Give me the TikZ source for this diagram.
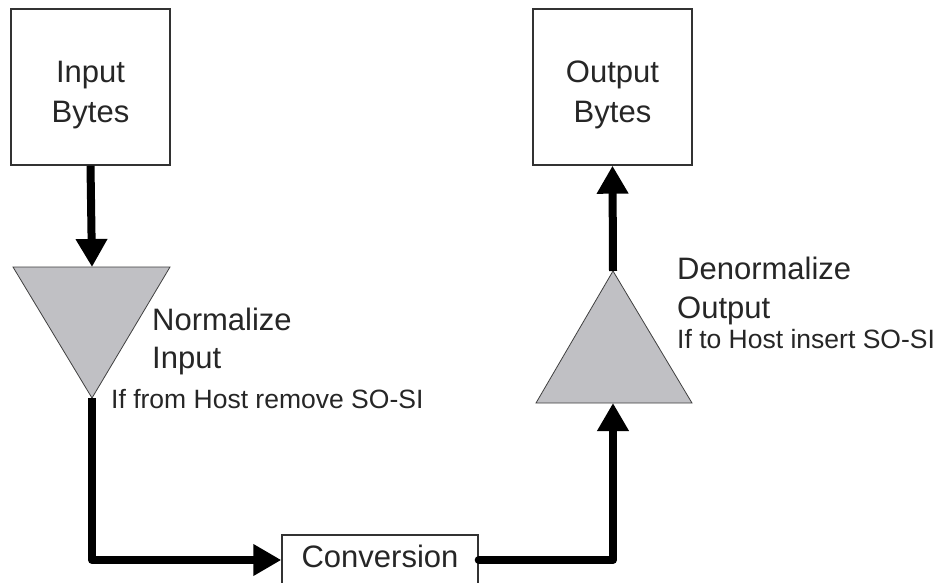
\documentclass[tikz,border=0pt]{standalone}
\usepackage{fontspec}
\setmainfont{Liberation Sans}
\usetikzlibrary{arrows.meta}
\definecolor{trifill}{RGB}{192,192,196}
\definecolor{boxline}{RGB}{50,50,50}
\tikzset{
  box/.style={draw=boxline, line width=1.4pt, fill=white, inner sep=0pt},
  big/.style={font=\fontsize{31}{40}\selectfont, inner sep=0pt, text=black!85},
  small/.style={font=\fontsize{26.5}{30}\selectfont, inner sep=0pt, text=black!85},
  tri/.style={fill=trifill, draw=black!75, line width=0.8pt, line join=miter},
  flow/.style={line width=8pt, line join=round, -{Triangle[width=30pt,length=28pt]}},
}
\begin{document}
\begin{tikzpicture}[x=1pt,y=-1pt]
\useasboundingbox (0,0) rectangle (935,582);
\clip (0,0) rectangle (935,582);
\fill[white] (0,0) rectangle (935,582);
% boxes
\node[box, minimum width=159pt, minimum height=156pt] (inb) at (90.5,87) {};
\node[big, anchor=base] (inbt1) at (90.5,82) {Input};
\node[big, anchor=base] (inbt2) at (90.5,122) {Bytes};
\node[box, minimum width=159pt, minimum height=156pt] (outb) at (612.5,87) {};
\node[big, anchor=base] (outbt1) at (612.5,82) {Output};
\node[big, anchor=base] (outbt2) at (612.5,122) {Bytes};
\node[box, big, minimum width=196pt, minimum height=50pt, text height=22pt, text depth=8pt] (conv) at (380,560) {Conversion};
% triangles
\coordinate (ntop) at (92,267);
\coordinate (napex) at (92,398);
\draw[tri] (13,267) -- (170,267) -- (napex) -- cycle;
\coordinate (rbase) at (613,403);
\coordinate (rapex) at (613,271);
\draw[tri] (536,403) -- (692,403) -- (rapex) -- cycle;
% labels
\node[big, anchor=base west] (nl1) at (152,330) {Normalize};
\node[big, anchor=base west] (nl2) at (152,368) {Input};
\node[small, anchor=base west] (nl3) at (111,408) {If from Host remove SO-SI};
\node[big, anchor=base west] (dl1) at (677,279) {Denormalize};
\node[big, anchor=base west] (dl2) at (677,318) {Output};
\node[small, anchor=base west] (dl3) at (677,348) {If to Host insert SO-SI};
% connectors
\draw[flow] (inb.south) -- (ntop);
\draw[flow] (napex) |- (conv.west);
\draw[flow, line cap=round] (conv.east) -| (rbase);
\draw[flow] (rapex) -- (outb.south);
\end{tikzpicture}
\end{document}
